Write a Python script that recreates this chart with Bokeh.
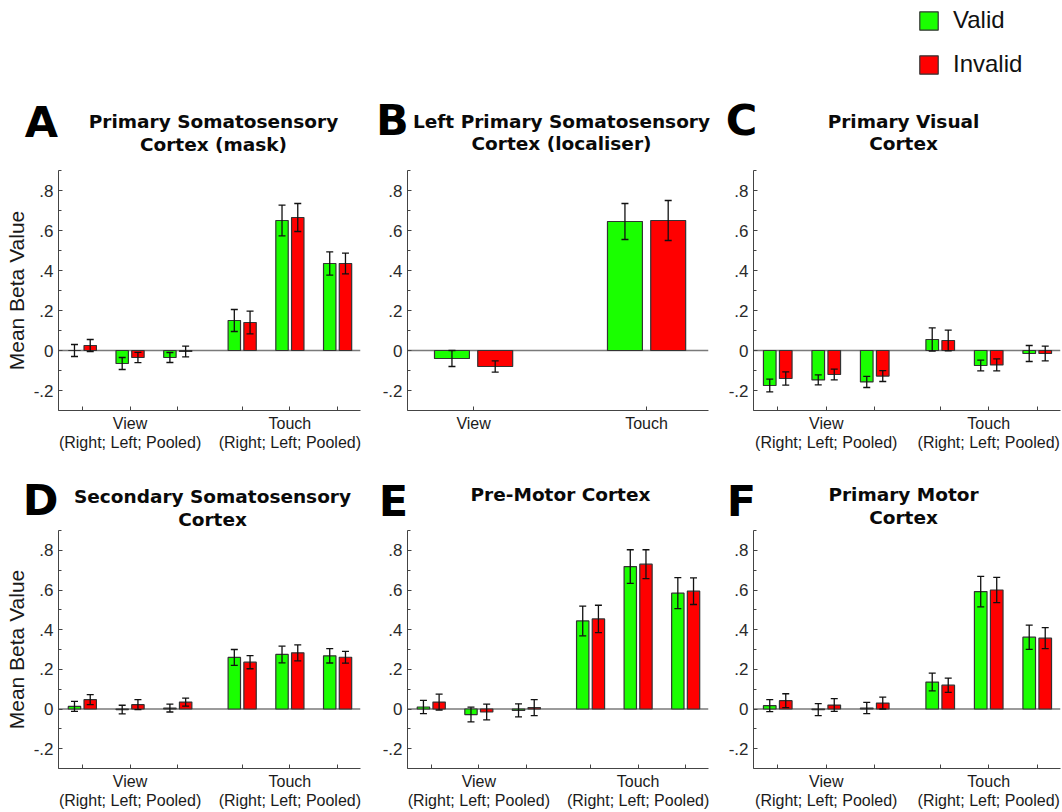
from bokeh.plotting import figure
from bokeh.models import (ColumnDataSource, Whisker, TeeHead, Span, Label,
                          FixedTicker, Legend, LegendItem, Range1d, LinearAxis)
from bokeh.layouts import row, column
from bokeh.embed import file_html
from bokeh.resources import INLINE

# ---------------- data ----------------
group_pos = [1, 2, 3, 4.35, 5.35, 6.35]
group_labels = ["", "View", "", "", "Touch", ""]
sub_pos = [2, 5.35]
sub_labels = ["(Right; Left; Pooled)", "(Right; Left; Pooled)"]
b_pos = [1, 2]
b_labels = ["View", "Touch"]

y_ticks = [-0.2, 0, 0.2, 0.4, 0.6, 0.8]
y_tick_labels = ["-.2", "0", ".2", ".4", ".6", ".8"]
y_minor = [-0.3, -0.1, 0.1, 0.3, 0.5, 0.7, 0.9]
y_label = "Mean Beta Value"

series_names = ["Valid", "Invalid"]

panel_letters = ["A", "B", "C", "D", "E", "F"]
panel_titles = [["Primary Somatosensory", "Cortex (mask)"],
                ["Left Primary Somatosensory", "Cortex (localiser)"],
                ["Primary Visual", "Cortex"],
                ["Secondary Somatosensory", "Cortex"],
                ["Pre-Motor Cortex"],
                ["Primary Motor", "Cortex"]]

a_valid = [0.00, -0.065, -0.035, 0.15, 0.65, 0.435]
a_valid_err = [0.030, 0.030, 0.025, 0.055, 0.077, 0.058]
a_invalid = [0.025, -0.035, -0.005, 0.14, 0.665, 0.435]
a_invalid_err = [0.030, 0.026, 0.027, 0.057, 0.070, 0.052]

b_valid = [-0.04, 0.645]
b_valid_err = [0.040, 0.090]
b_invalid = [-0.08, 0.65]
b_invalid_err = [0.028, 0.100]

c_valid = [-0.175, -0.147, -0.157, 0.055, -0.075, -0.015]
c_valid_err = [0.032, 0.025, 0.028, 0.058, 0.027, 0.040]
c_invalid = [-0.14, -0.12, -0.128, 0.05, -0.072, -0.015]
c_invalid_err = [0.033, 0.027, 0.027, 0.052, 0.030, 0.037]

d_valid = [0.013, -0.003, 0.005, 0.26, 0.275, 0.268]
d_valid_err = [0.025, 0.022, 0.020, 0.040, 0.042, 0.036]
d_invalid = [0.047, 0.022, 0.035, 0.236, 0.283, 0.261]
d_invalid_err = [0.025, 0.025, 0.020, 0.033, 0.040, 0.030]

e_valid = [0.010, -0.028, -0.007, 0.444, 0.718, 0.584]
e_valid_err = [0.033, 0.037, 0.033, 0.075, 0.085, 0.078]
e_invalid = [0.035, -0.015, 0.007, 0.454, 0.730, 0.594]
e_invalid_err = [0.040, 0.040, 0.040, 0.069, 0.073, 0.067]

f_valid = [0.017, -0.003, 0.005, 0.136, 0.592, 0.362]
f_valid_err = [0.030, 0.030, 0.028, 0.045, 0.077, 0.061]
f_invalid = [0.042, 0.020, 0.030, 0.120, 0.600, 0.357]
f_invalid_err = [0.035, 0.032, 0.030, 0.036, 0.064, 0.053]

# ---------------- styles ----------------
GREEN = "#1aff00"
RED = "#ff0000"
EDGE = "#333333"
AXIS = "#444444"
TICK_FONT = "Liberation Sans"
TITLE_FONT = "DejaVu Sans"
TITLE_SIZE = 18.5
LETTER_SIZE = 43
BASE_SHIFT = 0.4   # empirical correction of the alphabetic baseline


def make_header(box, panels, legend=None):
    """Header strip of one row; box = (left, top, right, bottom) on the page.
    panels: list of (letter, letter_x, letter_baseline, lines, title_x, baselines)."""
    l, t, r, b = box
    p = figure(width=r - l, height=b - t, output_backend="svg",
               toolbar_location=None, x_range=Range1d(0, 1),
               y_range=Range1d(0, 1), x_axis_location=None,
               y_axis_location=None, min_border=0)
    p.outline_line_color = None
    p.grid.visible = False

    def sy(Y, size):
        return b - (Y - BASE_SHIFT * size)

    for letter, lx, ly, lines, tx, tys in panels:
        for line, ty in zip(lines, tys):
            p.add_layout(Label(x=tx - l, y=sy(ty, TITLE_SIZE), x_units="screen",
                               y_units="screen", text=line, text_align="center",
                               text_baseline="alphabetic", text_font=TITLE_FONT,
                               text_font_style="bold",
                               text_font_size=f"{TITLE_SIZE}px",
                               text_color="#0a0a0a"))
        p.add_layout(Label(x=lx - l, y=sy(ly, LETTER_SIZE), x_units="screen",
                           y_units="screen", text=letter, text_align="center",
                           text_baseline="alphabetic", text_font=TITLE_FONT,
                           text_font_style="bold",
                           text_font_size=f"{LETTER_SIZE}px",
                           text_color="#000000"))
    if legend is not None:
        # legend proxies (hidden) carrying the two series' styles
        gx = p.vbar(x=group_pos, top=c_valid, width=0.1, fill_color=GREEN,
                    line_color=EDGE, line_width=1.2, visible=False)
        rx = p.vbar(x=group_pos, top=c_invalid, width=0.1, fill_color=RED,
                    line_color=EDGE, line_width=1.2, visible=False)
        lg = Legend(items=[LegendItem(label=series_names[0], renderers=[gx]),
                           LegendItem(label=series_names[1], renderers=[rx])],
                    location=(legend[0] - l, b - legend[1]),
                    glyph_width=23, glyph_height=23, label_standoff=13,
                    spacing=16, padding=0, margin=0,
                    border_line_color=None, background_fill_alpha=0,
                    inactive_fill_alpha=0,
                    label_text_font=TICK_FONT, label_text_font_size="24px",
                    label_text_color="#111111")
        p.add_layout(lg)
    return p


def make_plot(box, frame, pos, labels, valid, verr, invalid, ierr,
              bar_w, off, xr, ylabel=False, sublabel=False):
    fl, ft, fr, fb = box
    gl, gt, gr, gb = frame
    p = figure(width=fr - fl, height=fb - ft, output_backend="svg",
               toolbar_location=None, x_range=Range1d(*xr),
               y_range=Range1d(-0.3, 0.9),
               min_border_left=gl - fl, min_border_right=fr - gr,
               min_border_top=gt - ft, min_border_bottom=fb - gb)
    p.outline_line_color = None
    p.grid.visible = False

    xs_v = [x - off for x in pos]
    xs_i = [x + off for x in pos]
    p.add_layout(Span(location=0, dimension="width", line_color="#7a7a7a",
                      line_width=1.5, level="underlay"))
    p.vbar(x=xs_v, top=valid, bottom=0, width=bar_w, fill_color=GREEN,
           line_color=EDGE, line_width=1.2)
    p.vbar(x=xs_i, top=invalid, bottom=0, width=bar_w, fill_color=RED,
           line_color=EDGE, line_width=1.2)
    for xs, vals, errs in ((xs_v, valid, verr), (xs_i, invalid, ierr)):
        src = ColumnDataSource(dict(x=xs,
                                    upper=[v + e for v, e in zip(vals, errs)],
                                    lower=[v - e for v, e in zip(vals, errs)]))
        p.add_layout(Whisker(
            source=src, base="x", upper="upper", lower="lower",
            line_color="#111111", line_width=1.3, level="annotation",
            upper_head=TeeHead(size=7, line_color="#111111", line_width=1.3),
            lower_head=TeeHead(size=7, line_color="#111111", line_width=1.3)))

    yax = p.yaxis[0]
    yax.ticker = FixedTicker(ticks=y_ticks, minor_ticks=y_minor)
    yax.major_label_overrides = {t: l for t, l in zip(y_ticks, y_tick_labels)}
    yax.major_tick_in = 4
    yax.major_tick_out = 0
    yax.minor_tick_in = 3
    yax.minor_tick_out = 0
    yax.major_label_standoff = 5
    yax.major_label_text_font = TICK_FONT
    yax.major_label_text_font_size = "17px"
    yax.major_label_text_color = "#2a2a2a"
    yax.axis_line_color = AXIS
    yax.major_tick_line_color = AXIS
    yax.minor_tick_line_color = AXIS
    if ylabel:
        yax.axis_label = y_label
        yax.axis_label_text_font = TICK_FONT
        yax.axis_label_text_font_style = "normal"
        yax.axis_label_text_font_size = "21px"
        yax.axis_label_text_color = "#1a1a1a"
        yax.axis_label_standoff = 3

    xax = p.xaxis[0]
    xax.ticker = FixedTicker(ticks=pos)
    xax.major_label_overrides = {t: l for t, l in zip(pos, labels)}
    xax.major_tick_in = 4
    xax.major_tick_out = 0
    xax.minor_tick_line_color = None
    xax.major_label_standoff = 4
    xax.major_label_text_font = TICK_FONT
    xax.major_label_text_font_size = "16px"
    xax.major_label_text_color = "#1a1a1a"
    xax.axis_line_color = AXIS
    xax.major_tick_line_color = AXIS

    if sublabel:
        ax2 = LinearAxis(ticker=FixedTicker(ticks=sub_pos),
                         major_label_overrides={t: l for t, l in zip(sub_pos, sub_labels)},
                         axis_line_color=None, major_tick_line_color=None,
                         minor_tick_line_color=None, major_label_standoff=-7,
                         major_label_text_font=TICK_FONT,
                         major_label_text_font_size="16px",
                         major_label_text_color="#1a1a1a")
        p.add_layout(ax2, "below")
    return p


six_range = (0.5, 6.83)
two_range = (0.618, 2.358)
T = panel_titles
L = panel_letters

h1 = make_header((0, 0, 1062, 170),
                 [(L[0], 41, 139, T[0], 213, [128, 151]),
                  (L[1], 392, 137, T[1], 561, [128, 150]),
                  (L[2], 741, 137, T[2], 903, [128, 150])],
                 legend=(917, 78))
h2 = make_header((0, 470, 1062, 530),
                 [(L[3], 40, 517, T[3], 212, [503, 526]),
                  (L[4], 393, 518, T[4], 560, [501]),
                  (L[5], 741, 518, T[5], 903, [501, 524])])

pA = make_plot((0, 170, 372, 470), (58, 170, 360, 410), group_pos, group_labels,
               a_valid, a_valid_err, a_invalid, a_invalid_err, 0.26, 0.165,
               six_range, ylabel=True, sublabel=True)
pB = make_plot((372, 170, 718, 470), (407, 170, 708, 410), b_pos, b_labels,
               b_valid, b_valid_err, b_invalid, b_invalid_err, 0.202, 0.125,
               two_range)
pC = make_plot((718, 170, 1062, 470), (753, 170, 1060, 410), group_pos, group_labels,
               c_valid, c_valid_err, c_invalid, c_invalid_err, 0.26, 0.165,
               six_range, sublabel=True)
pD = make_plot((0, 530, 372, 812), (58, 530, 360, 768), group_pos, group_labels,
               d_valid, d_valid_err, d_invalid, d_invalid_err, 0.26, 0.165,
               six_range, ylabel=True, sublabel=True)
pE = make_plot((372, 530, 718, 812), (407, 530, 708, 768), group_pos, group_labels,
               e_valid, e_valid_err, e_invalid, e_invalid_err, 0.26, 0.165,
               six_range, sublabel=True)
pF = make_plot((718, 530, 1062, 812), (753, 530, 1060, 768), group_pos, group_labels,
               f_valid, f_valid_err, f_invalid, f_invalid_err, 0.26, 0.165,
               six_range, sublabel=True)

layout = column(h1, row(pA, pB, pC), h2, row(pD, pE, pF))

open("out.html", "w").write(file_html(layout, INLINE))
